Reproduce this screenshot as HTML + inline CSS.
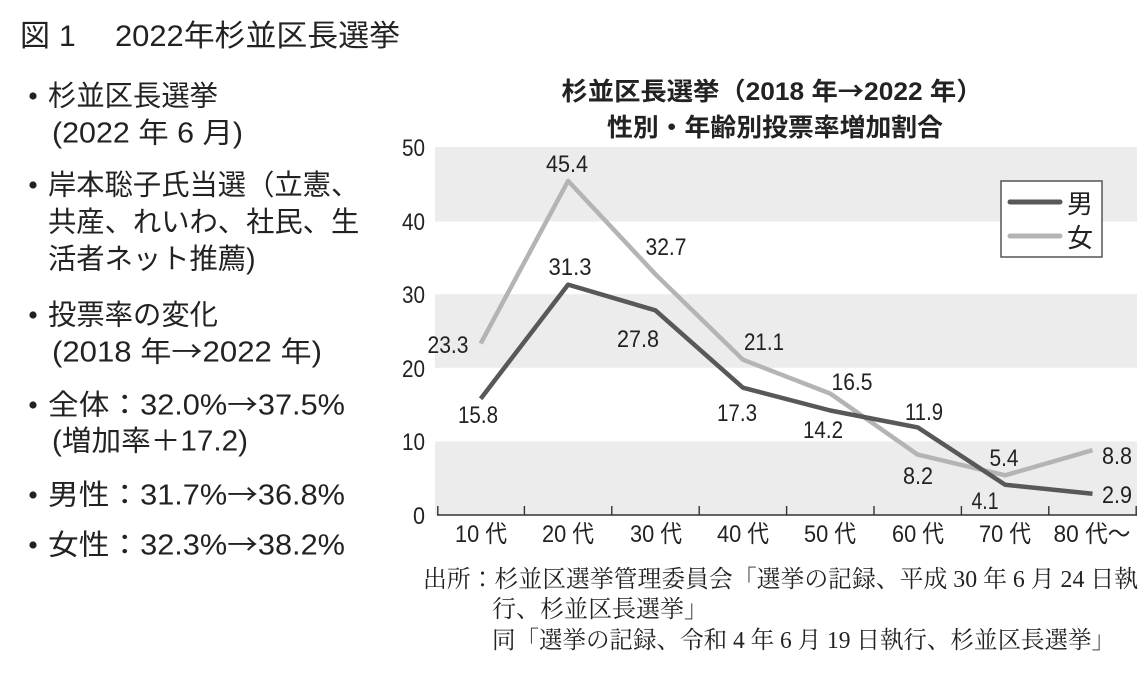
<!DOCTYPE html>
<html><head><meta charset="utf-8"><style>
html,body{margin:0;padding:0;background:#fff;}
svg{display:block;}
text{fill:#222;}
.s{font-family:"Liberation Sans","Noto Sans CJK JP",sans-serif;}
.n{font-family:"Liberation Sans","Noto Sans CJK JP",sans-serif;font-size:24px;}
.f{font-family:"Liberation Serif","Noto Serif CJK JP",serif;font-size:24px;}
.ar{font-family:"Noto Sans CJK JP",sans-serif;}
</style></head><body>
<svg width="1146" height="680" viewBox="0 0 1146 680" xmlns="http://www.w3.org/2000/svg">
<rect width="1146" height="680" fill="#fff"/>
<!-- Heading -->
<text class="s" x="20" y="46" font-size="30">図</text>
<text class="s" x="59" y="46" font-size="30">1</text>
<text class="s" x="115" y="46" font-size="30" textLength="285" lengthAdjust="spacingAndGlyphs">2022年杉並区長選挙</text>

<!-- Left bullets -->
<g class="s" font-size="28.3">
<circle cx="33" cy="96" r="3.6" fill="#222"/>
<text x="48" y="105.6" textLength="170" lengthAdjust="spacingAndGlyphs">杉並区長選挙</text>
<text x="52" y="142.6" textLength="191" lengthAdjust="spacingAndGlyphs">(2022 年 6 月)</text>
<circle cx="33" cy="185" r="3.6" fill="#222"/>
<text x="48" y="194.6">岸本聡子氏当選（立憲、</text>
<text x="48" y="231.6">共産、れいわ、社民、生</text>
<text x="48" y="268.6">活者ネット推薦)</text>
<circle cx="33" cy="315" r="3.6" fill="#222"/>
<text x="48" y="324.6" textLength="170" lengthAdjust="spacingAndGlyphs">投票率の変化</text>
<text x="52" y="361.6" textLength="270" lengthAdjust="spacingAndGlyphs">(2018 年<tspan class="ar">→</tspan>2022 年)</text>
<circle cx="33" cy="405" r="3.6" fill="#222"/>
<text x="48" y="414.6" textLength="297" lengthAdjust="spacingAndGlyphs">全体：32.0%<tspan class="ar">→</tspan>37.5%</text>
<text x="52" y="450.6" textLength="196" lengthAdjust="spacingAndGlyphs">(増加率＋17.2)</text>
<circle cx="33" cy="495" r="3.6" fill="#222"/>
<text x="48" y="504.6" textLength="297" lengthAdjust="spacingAndGlyphs">男性：31.7%<tspan class="ar">→</tspan>36.8%</text>
<circle cx="33" cy="545" r="3.6" fill="#222"/>
<text x="48" y="554.6" textLength="297" lengthAdjust="spacingAndGlyphs">女性：32.3%<tspan class="ar">→</tspan>38.2%</text>
</g>

<!-- Chart title -->
<text class="s" x="772" y="100" font-size="25" font-weight="bold" text-anchor="middle" textLength="421" lengthAdjust="spacingAndGlyphs">杉並区長選挙（2018 年<tspan class="ar">→</tspan>2022 年）</text>
<text class="s" x="775" y="136" font-size="25" font-weight="bold" text-anchor="middle" textLength="336" lengthAdjust="spacingAndGlyphs">性別・年齢別投票率増加割合</text>

<!-- Bands -->
<rect x="435" y="147" width="702" height="74.6" fill="#ececec"/>
<rect x="435" y="294.2" width="702" height="73.6" fill="#ececec"/>
<rect x="435" y="441.4" width="702" height="73.6" fill="#ececec"/>

<!-- Y labels -->
<g class="n" text-anchor="end">
<text x="425" y="156" textLength="23" lengthAdjust="spacingAndGlyphs">50</text>
<text x="425" y="230" textLength="23" lengthAdjust="spacingAndGlyphs">40</text>
<text x="425" y="303" textLength="23" lengthAdjust="spacingAndGlyphs">30</text>
<text x="425" y="377" textLength="23" lengthAdjust="spacingAndGlyphs">20</text>
<text x="425" y="450" textLength="23" lengthAdjust="spacingAndGlyphs">10</text>
<text x="425" y="524" textLength="12" lengthAdjust="spacingAndGlyphs">0</text>
</g>

<!-- Axis -->
<line x1="437" y1="515" x2="1137" y2="515" stroke="#333" stroke-width="1.6"/>
<g stroke="#333" stroke-width="1.4">
<line x1="437.8" y1="506" x2="437.8" y2="515"/>
<line x1="524.4" y1="506" x2="524.4" y2="515"/>
<line x1="611.8" y1="506" x2="611.8" y2="515"/>
<line x1="699.2" y1="506" x2="699.2" y2="515"/>
<line x1="786.6" y1="506" x2="786.6" y2="515"/>
<line x1="874" y1="506" x2="874" y2="515"/>
<line x1="961.4" y1="506" x2="961.4" y2="515"/>
<line x1="1048.8" y1="506" x2="1048.8" y2="515"/>
<line x1="1136.2" y1="506" x2="1136.2" y2="515"/>
</g>

<!-- X labels -->
<g class="n" text-anchor="middle">
<text x="481" y="542" textLength="52" lengthAdjust="spacingAndGlyphs">10 代</text>
<text x="568" y="542" textLength="52" lengthAdjust="spacingAndGlyphs">20 代</text>
<text x="656" y="542" textLength="52" lengthAdjust="spacingAndGlyphs">30 代</text>
<text x="743" y="542" textLength="52" lengthAdjust="spacingAndGlyphs">40 代</text>
<text x="830" y="542" textLength="52" lengthAdjust="spacingAndGlyphs">50 代</text>
<text x="918" y="542" textLength="52" lengthAdjust="spacingAndGlyphs">60 代</text>
<text x="1005" y="542" textLength="52" lengthAdjust="spacingAndGlyphs">70 代</text>
<text x="1092" y="542" textLength="77" lengthAdjust="spacingAndGlyphs">80 代〜</text>
</g>

<!-- Series -->
<polyline fill="none" stroke="#b4b4b4" stroke-width="4.5" stroke-linejoin="round"
 points="480.7,343.5 568.1,180.9 655.5,274.3 742.9,359.7 830.3,393.6 917.7,454.6 1005.1,475.3 1092.5,450.2"/>
<polyline fill="none" stroke="#58585a" stroke-width="4.5" stroke-linejoin="round"
 points="480.7,398.7 568.1,284.6 655.5,310.4 742.9,387.7 830.3,410.5 917.7,427.4 1005.1,484.8 1092.5,493.7"/>

<!-- Data labels -->
<g class="n" text-anchor="middle">
<text x="567" y="172" textLength="42" lengthAdjust="spacingAndGlyphs">45.4</text>
<text x="570" y="275" textLength="43" lengthAdjust="spacingAndGlyphs">31.3</text>
<text x="666" y="255" textLength="41" lengthAdjust="spacingAndGlyphs">32.7</text>
<text x="448" y="353" textLength="41" lengthAdjust="spacingAndGlyphs">23.3</text>
<text x="638" y="347" textLength="42" lengthAdjust="spacingAndGlyphs">27.8</text>
<text x="478" y="423" textLength="40" lengthAdjust="spacingAndGlyphs">15.8</text>
<text x="737" y="421" textLength="40" lengthAdjust="spacingAndGlyphs">17.3</text>
<text x="764" y="350" textLength="40" lengthAdjust="spacingAndGlyphs">21.1</text>
<text x="852" y="390" textLength="41" lengthAdjust="spacingAndGlyphs">16.5</text>
<text x="823" y="438" textLength="40" lengthAdjust="spacingAndGlyphs">14.2</text>
<text x="924" y="420" textLength="38" lengthAdjust="spacingAndGlyphs">11.9</text>
<text x="1004" y="466" textLength="29" lengthAdjust="spacingAndGlyphs">5.4</text>
<text x="918" y="484" textLength="30" lengthAdjust="spacingAndGlyphs">8.2</text>
<text x="985" y="509" textLength="27" lengthAdjust="spacingAndGlyphs">4.1</text>
<text x="1117" y="464" textLength="30" lengthAdjust="spacingAndGlyphs">8.8</text>
<text x="1117" y="503" textLength="30" lengthAdjust="spacingAndGlyphs">2.9</text>
</g>

<!-- Legend -->
<rect x="1001" y="181" width="101" height="76" fill="#fff" stroke="#555" stroke-width="1.5"/>
<line x1="1010" y1="202" x2="1060" y2="202" stroke="#58585a" stroke-width="5" stroke-linecap="round"/>
<line x1="1010" y1="236" x2="1060" y2="236" stroke="#b4b4b4" stroke-width="5" stroke-linecap="round"/>
<text class="s" x="1067" y="213" font-size="26">男</text>
<text class="s" x="1067" y="247" font-size="26">女</text>

<!-- Footer -->
<text class="f" x="423" y="587" textLength="715" lengthAdjust="spacingAndGlyphs">出所：杉並区選挙管理委員会「選挙の記録、平成 30 年 6 月 24 日執</text>
<text class="f" x="492" y="617">行、杉並区長選挙」</text>
<text class="f" x="492" y="648" textLength="623" lengthAdjust="spacingAndGlyphs">同「選挙の記録、令和 4 年 6 月 19 日執行、杉並区長選挙」</text>
</svg>
</body></html>
